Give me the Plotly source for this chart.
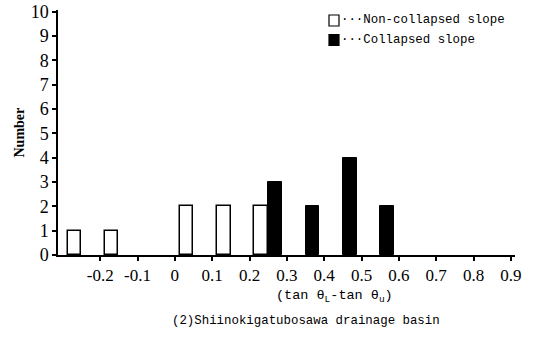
import plotly.graph_objects as go

# bin centres of the histogram (tanθL - tanθu)
bins = [-0.25, -0.15, -0.05, 0.05, 0.15, 0.25, 0.35, 0.45, 0.55, 0.65, 0.75, 0.85]
non_collapsed = [1, 1, 0, 2, 2, 2, 0, 0, 0, 0, 0, 0]
collapsed = [0, 0, 0, 0, 0, 3, 2, 4, 2, 0, 0, 0]
x_ticks = [-0.2, -0.1, 0, 0.1, 0.2, 0.3, 0.4, 0.5, 0.6, 0.7, 0.8, 0.9]
x_tick_labels = ["-0.2", "-0.1", "0", "0.1", "0.2", "0.3", "0.4", "0.5", "0.6", "0.7", "0.8", "0.9"]
y_ticks = list(range(0, 11))

serif = "Liberation Serif"
mono = "Liberation Mono"

nc_x = [b for b, v in zip(bins, non_collapsed) if v > 0]
nc_y = [v for v in non_collapsed if v > 0]
c_x = [b for b, v in zip(bins, collapsed) if v > 0]
c_y = [v for v in collapsed if v > 0]

fig = go.Figure()
fig.add_trace(go.Bar(
    x=nc_x, y=nc_y, width=0.036, offset=-0.037,
    marker=dict(color="white", line=dict(color="black", width=1.5)),
    name="Non-collapsed slope", showlegend=False,
))
fig.add_trace(go.Bar(
    x=c_x, y=c_y, width=0.037, offset=0.0,
    marker=dict(color="black", line=dict(color="black", width=1)),
    name="Collapsed slope", showlegend=False,
))

fig.update_layout(
    width=534, height=339,
    margin=dict(l=58, r=19, t=10, b=84),
    paper_bgcolor="white", plot_bgcolor="white",
    bargap=0,
    font=dict(family=serif, color="black", size=16),
    xaxis=dict(
        range=[-0.313, 0.911], tickmode="array", tickvals=x_ticks, ticktext=x_tick_labels,
        showline=True, linecolor="black", linewidth=1.5, ticks="outside", ticklen=4,
        tickwidth=1.5, tickcolor="black", showgrid=False, zeroline=False,
        tickfont=dict(family=serif, size=17), automargin=False,
    ),
    yaxis=dict(
        range=[0, 10.07], tickmode="array", tickvals=y_ticks,
        showline=True, linecolor="black", linewidth=1.5, ticks="outside", ticklen=4,
        tickwidth=1.5, tickcolor="black", showgrid=False, zeroline=False,
        tickfont=dict(family=serif, size=18), automargin=False,
    ),
    showlegend=False,
)

# y-axis title
fig.add_annotation(
    text="<b>Number</b>", xref="paper", yref="paper", x=(19 - 58) / 457, y=0.5,
    xanchor="center", yanchor="middle", textangle=-90, showarrow=False,
    font=dict(family=serif, size=14),
)
# x-axis title
fig.add_annotation(
    text="(tan θ<sub>L</sub>-tan θ<sub>u</sub>)", xref="paper", yref="paper",
    x=(334 - 58) / 457, y=-(296 - 255) / 245, xanchor="center", yanchor="middle",
    showarrow=False, font=dict(family=mono, size=13.5),
)
# caption
fig.add_annotation(
    text="(2)Shiinokigatubosawa drainage basin", xref="paper", yref="paper",
    x=(306 - 58) / 457, y=-(321 - 255) / 245, xanchor="center", yanchor="middle",
    showarrow=False, font=dict(family=mono, size=12.4),
)

# legend drawn manually
legend_items = [("···Non-collapsed slope", "white", 20.5), ("···Collapsed slope", "black", 40)]
for label, fill, yc in legend_items:
    fig.add_shape(
        type="rect", xref="paper", yref="paper",
        x0=(329 - 58) / 457, x1=(339 - 58) / 457,
        y0=(255 - (yc + 5.5)) / 245, y1=(255 - (yc - 5.5)) / 245,
        fillcolor=fill, line=dict(color="black", width=1.2),
    )
    fig.add_annotation(
        text=label, xref="paper", yref="paper", x=(339 - 58) / 457, y=(255 - yc) / 245,
        xanchor="left", yanchor="middle", showarrow=False,
        font=dict(family=mono, size=12.4),
    )

fig.write_html("out.html", config={"displayModeBar": False},
               post_script="document.body.style.margin='0';")
